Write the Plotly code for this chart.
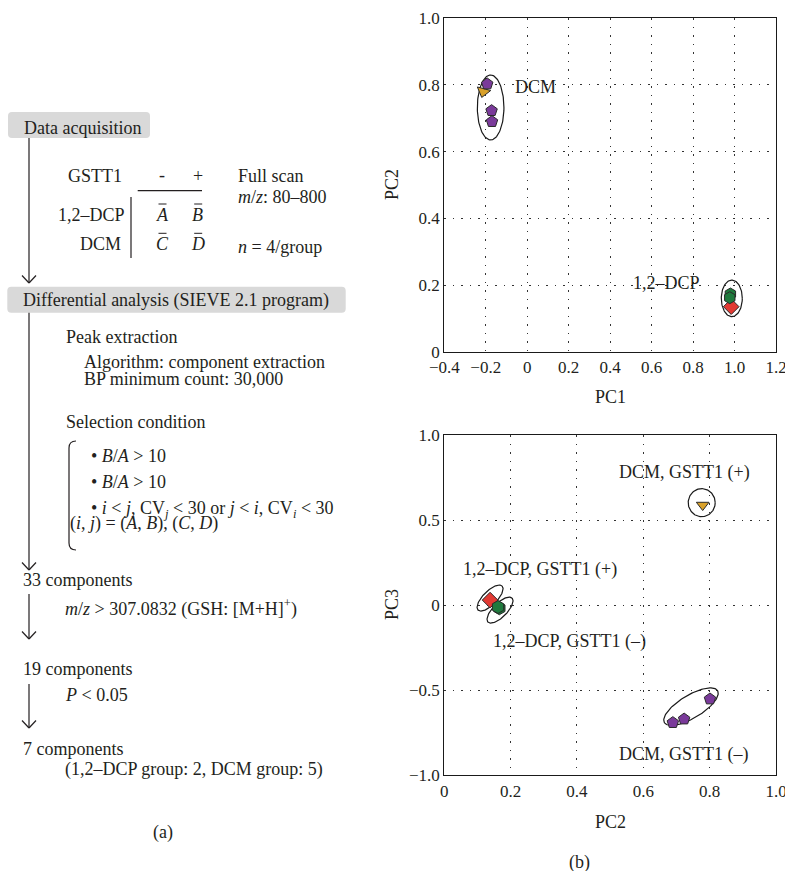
import numpy as np
import plotly.graph_objects as go

W, H = 785, 871
FONT = "Liberation Serif"
TXT = "#231f20"

# ---------------- data ----------------
# Panel (b) top: PC1 vs PC2
pc1_dcm_minus = [-0.193, -0.172, -0.170]
pc2_dcm_minus = [0.803, 0.723, 0.690]
pc1_dcm_plus = [-0.212]
pc2_dcm_plus = [0.780]
pc1_dcp_minus = [0.980, 0.977]
pc2_dcp_minus = [0.173, 0.162]
pc1_dcp_plus = [0.984]
pc2_dcp_plus = [0.135]

# Panel (b) bottom: PC2 vs PC3
pc2b_dcm_minus = [0.689, 0.723, 0.801]
pc3_dcm_minus = [-0.692, -0.671, -0.553]
pc2b_dcm_plus = [0.779]
pc3_dcm_plus = [0.588]
pc2b_dcp_minus = [0.166, 0.162]
pc3_dcp_minus = [-0.019, -0.012]
pc2b_dcp_plus = [0.138]
pc3_dcp_plus = [0.029]

x1_ticks = [-0.4, -0.2, 0, 0.2, 0.4, 0.6, 0.8, 1.0, 1.2]
x1_text = ["\u22120.4", "\u22120.2", "0", "0.2", "0.4", "0.6", "0.8", "1.0", "1.2"]
y1_ticks = [0, 0.2, 0.4, 0.6, 0.8, 1.0]
y1_text = ["0", "0.2", "0.4", "0.6", "0.8", "1.0"]
x2_ticks = [0, 0.2, 0.4, 0.6, 0.8, 1.0]
x2_text = ["0", "0.2", "0.4", "0.6", "0.8", "1.0"]
y2_ticks = [-1.0, -0.5, 0, 0.5, 1.0]
y2_text = ["\u22121.0", "\u22120.5", "0", "0.5", "1.0"]

PURPLE = "#7a3a9a"
YELLOW = "#d9a12a"
GREEN = "#1f7a3d"
RED = "#e23a33"

# ---------------- helpers ----------------
def px(x):
    return x / W

def py(y):
    return 1 - y / H

XD = [444.3 / W, 776 / W]
Y1D = [py(351.7), py(18.3)]
Y2D = [py(775), py(435)]

fig = go.Figure()

def mk(x, y, sym, col, xa, ya, size=12, angle=0):
    fig.add_trace(go.Scatter(x=x, y=y, mode="markers", xaxis=xa, yaxis=ya,
                             marker=dict(symbol=sym, color=col, size=size, angle=angle,
                                         line=dict(color="#2a2a2a", width=1)),
                             hoverinfo="skip", showlegend=False))

def ellipse(cx, cy, a, b, ang, sx, sy, xa, ya):
    t = np.linspace(0, 2 * np.pi, 120)
    th = np.deg2rad(ang)
    dx = a * np.cos(t) * np.cos(th) - b * np.sin(t) * np.sin(th)
    dy = a * np.cos(t) * np.sin(th) + b * np.sin(t) * np.cos(th)
    fig.add_trace(go.Scatter(x=cx + dx / sx, y=cy + dy / sy, mode="lines",
                             xaxis=xa, yaxis=ya, line=dict(color="#1a1a1a", width=1.2),
                             hoverinfo="skip", showlegend=False))

SX1, SY1 = 331.7 / 1.6, 333.4
SX2, SY2 = 331.7, 170.0

# top plot ellipses + markers
ellipse(-0.1765, 0.7325, 13.3, 32.5, 0, SX1, SY1, "x", "y")
ellipse(0.9868, 0.160, 10.5, 18.3, 0, SX1, SY1, "x", "y")
mk(pc1_dcm_plus, pc2_dcm_plus, "triangle-down", YELLOW, "x", "y", angle=15)
mk(pc1_dcm_minus, pc2_dcm_minus, "pentagon", PURPLE, "x", "y")
mk(pc1_dcp_plus, pc2_dcp_plus, "diamond", RED, "x", "y")
mk(pc1_dcp_minus, pc2_dcp_minus, "hexagon", GREEN, "x", "y")

# bottom plot ellipses + markers
ellipse(0.776, 0.602, 13.5, 14, 0, SX2, SY2, "x2", "y2")
ellipse(0.7437, -0.598, 31, 11.5, 31, SX2, SY2, "x2", "y2")
ellipse(0.138, 0.041, 17, 7, 45, SX2, SY2, "x2", "y2")
ellipse(0.168, -0.030, 17, 7, 45, SX2, SY2, "x2", "y2")
mk(pc2b_dcm_plus, pc3_dcm_plus, "triangle-down", YELLOW, "x2", "y2", size=11)
mk(pc2b_dcm_minus, pc3_dcm_minus, "pentagon", PURPLE, "x2", "y2")
mk(pc2b_dcp_plus, pc3_dcp_plus, "diamond", RED, "x2", "y2")
mk(pc2b_dcp_minus, pc3_dcp_minus, "hexagon", GREEN, "x2", "y2", size=13)

axis_common = dict(showgrid=True, gridcolor="#333333", gridwidth=1.4, griddash="1.5px,7px",
                   showline=True, linecolor="#1a1a1a", linewidth=1.3, mirror=True,
                   zeroline=False, ticks="", tickfont=dict(family=FONT, size=17, color=TXT),
                   tickmode="array", fixedrange=True, automargin=False,
                   ticklabeloverflow="allow")

fig.update_layout(
    width=W, height=H, autosize=False,
    margin=dict(l=0, r=0, t=0, b=0, pad=0, autoexpand=False),
    paper_bgcolor="white", plot_bgcolor="white", showlegend=False,
    xaxis=dict(domain=XD, range=[-0.4, 1.2], tickvals=x1_ticks, ticktext=x1_text,
               anchor="y", **axis_common),
    yaxis=dict(domain=Y1D, range=[0, 1.0], tickvals=y1_ticks, ticktext=y1_text,
               anchor="x", **axis_common),
    xaxis2=dict(domain=XD, range=[0, 1.0], tickvals=x2_ticks, ticktext=x2_text,
                anchor="y2", **axis_common),
    yaxis2=dict(domain=Y2D, range=[-1.0, 1.0], tickvals=y2_ticks, ticktext=y2_text,
                anchor="x2", **axis_common),
)

ann = []

def txt(x, y, s, anchor="left", size=18, ref="paper", xr=None, yr=None, angle=0):
    d = dict(text=s, showarrow=False, xanchor=anchor, yanchor="middle",
             font=dict(family=FONT, size=size, color=TXT), textangle=angle)
    if ref == "paper":
        d.update(x=px(x), y=py(y), xref="paper", yref="paper")
    else:
        d.update(x=x, y=y, xref=xr, yref=yr)
    ann.append(d)

# plot labels
txt(-0.069, 0.794, "DCM", "left", ref="data", xr="x", yr="y")
txt(0.672, 0.206, "1,2\u2013DCP", "center", ref="data", xr="x", yr="y")
txt(0.7255, 0.778, "DCM, GSTT1 (+)", "center", ref="data", xr="x2", yr="y2")
txt(0.2885, 0.206, "1,2\u2013DCP, GSTT1 (+)", "center", ref="data", xr="x2", yr="y2")
txt(0.377, -0.212, "1,2\u2013DCP, GSTT1 (\u2013)", "center", ref="data", xr="x2", yr="y2")
txt(0.722, -0.882, "DCM, GSTT1 (\u2013)", "center", ref="data", xr="x2", yr="y2")

# axis titles
txt(610, 397, "PC1", "center")
txt(392, 185, "PC2", "center", angle=-90)
txt(610, 822, "PC2", "center")
txt(392, 605, "PC3", "center", angle=-90)
txt(579, 862, "(b)", "center")
txt(163, 832, "(a)", "center")

# left flow chart text
txt(21.7, 127.7, "Data acquisition")
txt(65.7, 175.7, "GSTT1")
txt(162, 175.0, "-", "center")
txt(197.7, 175.7, "+", "center")
txt(126.7, 215, "1,2\u2013DCP", "right")
txt(123, 244, "DCM", "right")
txt(162, 215, "<i>A</i>", "center")
txt(197.7, 215, "<i>B</i>", "center")
txt(162, 244, "<i>C</i>", "center")
txt(197.7, 244, "<i>D</i>", "center")
txt(235.7, 175.7, "Full scan")
txt(235.7, 196.7, "<i>m</i>/<i>z</i>: 80\u2013800")
txt(235.7, 246.7, "<i>n</i> = 4/group")
txt(20.7, 300.7, "Differential analysis (SIEVE 2.1 program)")
txt(64.3, 336.7, "Peak extraction")
txt(82.3, 362.3, "Algorithm: component extraction")
txt(82.3, 379, "BP minimum count: 30,000")
txt(64.3, 421.7, "Selection condition")
txt(88.7, 455.7, "\u2022 <i>B</i>/<i>A</i> > 10")
txt(88.7, 481.7, "\u2022 <i>B</i>/<i>A</i> > 10")
txt(88.7, 510.0, "\u2022 <i>i</i> < <i>j</i>, CV<sub><i>j</i></sub> < 30 or <i>j</i> < <i>i</i>, CV<sub><i>i</i></sub> < 30")
txt(68, 523.5, "(<i>i</i>, <i>j</i>) = (<i>A</i>, <i>B</i>), (<i>C</i>, <i>D</i>)")
txt(20.7, 580, "33 components")
txt(63.3, 607.5, "<i>m</i>/<i>z</i> > 307.0832 (GSH: [M+H]<sup>+</sup>)")
txt(20.7, 669.3, "19 components")
txt(63, 695, "<i>P</i> < 0.05")
txt(20.7, 749.3, "7 components")
txt(63.3, 769.3, "(1,2\u2013DCP group: 2, DCM group: 5)")

shapes = []

def rbox(x0, y0, x1, y1, r=4):
    p = (f"M {px(x0+r)},{py(y0)} L {px(x1-r)},{py(y0)} Q {px(x1)},{py(y0)} {px(x1)},{py(y0+r)} "
         f"L {px(x1)},{py(y1-r)} Q {px(x1)},{py(y1)} {px(x1-r)},{py(y1)} "
         f"L {px(x0+r)},{py(y1)} Q {px(x0)},{py(y1)} {px(x0)},{py(y1-r)} "
         f"L {px(x0)},{py(y0+r)} Q {px(x0)},{py(y0)} {px(x0+r)},{py(y0)} Z")
    shapes.append(dict(type="path", path=p, xref="paper", yref="paper",
                       fillcolor="#d9d9d9", line=dict(width=0), layer="below"))

def line(x0, y0, x1, y1, w=1.2):
    shapes.append(dict(type="line", x0=px(x0), y0=py(y0), x1=px(x1), y1=py(y1),
                       xref="paper", yref="paper", line=dict(color="#231f20", width=w)))

def arrow(x, y0, y1):
    line(x, y0, x, y1)
    line(x - 7, y1 - 7.5, x, y1)
    line(x + 7, y1 - 7.5, x, y1)

rbox(8, 112, 150, 138)
rbox(7.3, 286.7, 345.7, 312.7)
arrow(29, 138, 283)
arrow(29, 312.7, 570)
arrow(29, 594, 639)
arrow(29, 684, 728)

# table lines
line(137.7, 190.7, 202, 190.7, 1.2)
line(131, 197, 131, 258, 1.2)
for cx, cy in [(162, 204), (197.7, 204), (162, 233.3), (197.7, 233.3)]:
    line(cx - 3.5, cy, cx + 4.5, cy, 1)

# bracket
bp = (f"M {px(76)},{py(441)} Q {px(69)},{py(441)} {px(69)},{py(448)} "
      f"L {px(69)},{py(543)} Q {px(69)},{py(550)} {px(76)},{py(550)}")
shapes.append(dict(type="path", path=bp, xref="paper", yref="paper",
                   line=dict(color="#231f20", width=1.2)))

fig.update_layout(annotations=ann, shapes=shapes)
fig.write_html("out.html", config={"displayModeBar": False},
               post_script="document.body.style.margin='0';document.body.style.overflow='hidden';")
